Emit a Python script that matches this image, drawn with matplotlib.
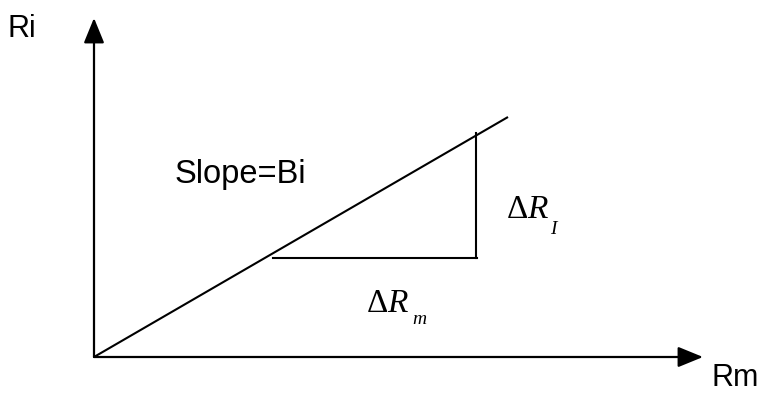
import matplotlib
matplotlib.use("Agg")
import matplotlib.pyplot as plt

#%% DATA (pixel coordinates of the sketch, y downwards)

ORIGIN = (94, 357)
Y_AXIS_TIP = (94, 18)
X_AXIS_TIP = (703, 357)

LINE_X = [94, 508]
LINE_Y = [357, 117]

RUN_X = [273, 477]      # horizontal leg (delta Rm)
RUN_Y = [258, 258]
RISE_X = [476, 476]     # vertical leg (delta Ri)
RISE_Y = [133, 258]

LABELS = ["Ri", "Rm", "Slope=Bi"]
LABEL_POS = [(8, 37), (712, 386), (175, 183)]
LABEL_SIZE = [22, 22, 23.5]

DELTA_MAIN = [r"$\Delta R$", r"$\Delta R$"]
DELTA_SUB = ["m", "I"]
DELTA_POS = [(366, 312), (506, 218)]     # baseline of main text
SUB_POS = [(412, 324), (550, 234)]       # baseline of subscript

#%% PLOT

plt.rcParams["mathtext.fontset"] = "custom"
plt.rcParams["mathtext.rm"] = "Liberation Serif"
plt.rcParams["mathtext.it"] = "Liberation Serif:italic"

fig = plt.figure(figsize=(7.6, 3.97), dpi=100)
ax = fig.add_axes([0, 0, 1, 1])
ax.set_xlim(0, 760)
ax.set_ylim(397, 0)
ax.axis("off")

arrow = dict(arrowstyle="-|>,head_length=1.1,head_width=0.45", color="black",
             lw=1.6, shrinkA=0, shrinkB=0, mutation_scale=14)
ax.annotate("", xy=Y_AXIS_TIP, xytext=ORIGIN, arrowprops=arrow)
ax.annotate("", xy=X_AXIS_TIP, xytext=ORIGIN, arrowprops=arrow)

ax.plot(LINE_X, LINE_Y, color="black", lw=1.5, solid_capstyle="butt")
ax.plot(RUN_X, RUN_Y, color="black", lw=1.5)
ax.plot(RISE_X, RISE_Y, color="black", lw=1.5)

for txt, (x, y), s in zip(LABELS, LABEL_POS, LABEL_SIZE):
    ax.text(x, y, txt, fontsize=s, family="Liberation Sans",
            ha="left", va="baseline")

for txt, (x, y) in zip(DELTA_MAIN, DELTA_POS):
    ax.text(x, y, txt, fontsize=24, ha="left", va="baseline")

for txt, (x, y) in zip(DELTA_SUB, SUB_POS):
    ax.text(x, y, txt, fontsize=14, family="Liberation Serif", style="italic",
            ha="left", va="baseline")

fig.savefig("out.png", dpi=100)
